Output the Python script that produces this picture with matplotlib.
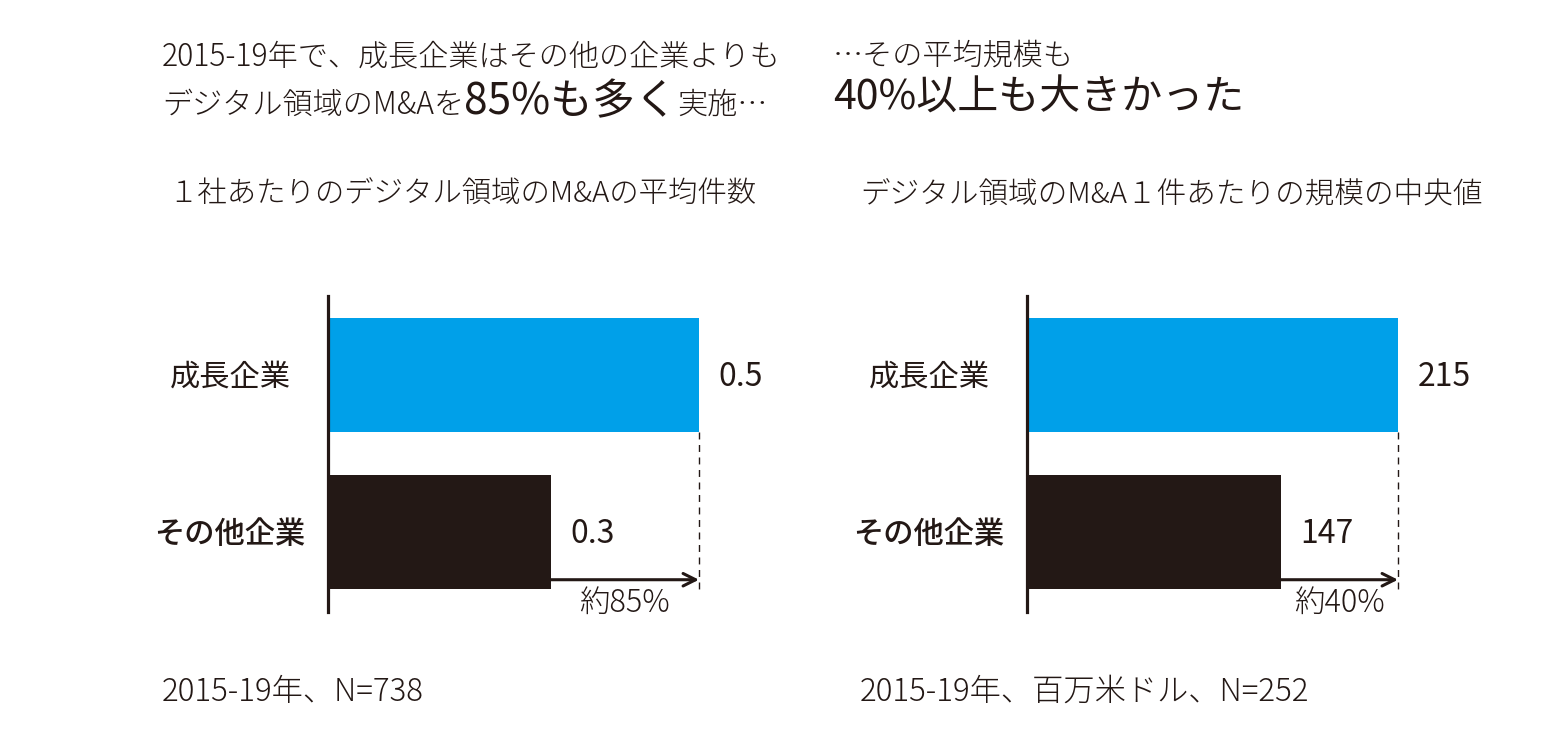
import matplotlib
matplotlib.use('Agg')
import matplotlib.pyplot as plt
from matplotlib.transforms import blended_transform_factory

plt.rcParams['font.family'] = ['Noto Sans CJK JP', 'DejaVu Sans']
plt.rcParams['font.weight'] = 'light'

W, H = 1567, 739
DARK = '#231815'
BLUE = '#00A0E9'

# ---- data ----
categories = ['成長企業', 'その他企業']
left_values = [0.5, 0.3]
left_labels = ['0.5', '0.3']
right_values = [215, 147]
right_labels = ['215', '147']
left_diff_label = '約85%'
right_diff_label = '約40%'
left_subtitle = '１社あたりのデジタル領域のM&Aの平均件数'
right_subtitle = 'デジタル領域のM&A１件あたりの規模の中央値'
left_note = '2015-19年、N=738'
right_note = '2015-19年、百万米ドル、N=252'


def fx(x):
    return x / W


def fy(y):
    return 1 - y / H


fig = plt.figure(figsize=(W / 100, H / 100), dpi=100)
fig.patch.set_facecolor('white')
r = fig.canvas.get_renderer()


def seq_text(x, y, parts):
    """parts: list of (text, fontsize, weight)"""
    cx = x
    for txt, fs, wt in parts:
        t = fig.text(fx(cx), fy(y), txt, fontsize=fs, va='baseline', ha='left',
                     color=DARK, fontweight=wt)
        bb = t.get_window_extent(r)
        cx = bb.x1


# headlines
seq_text(162, 65, [('2015-19年で、成長企業はその他の企業よりも', 21.7, 'light')])
seq_text(162, 114, [('デジタル領域のM&Aを', 21.7, 'light'), ('85%も多く', 30.5, 'normal'),
                    ('実施…', 21.7, 'light')])
seq_text(833, 65, [('…その平均規模も', 21.7, 'light')])
seq_text(833, 110, [('40%以上も大きかった', 29.5, 'normal')])

# subtitles
fig.text(fx(168), fy(203), left_subtitle, fontsize=21.2, va='baseline', color=DARK)
fig.text(fx(860), fy(203), right_subtitle, fontsize=21.3, va='baseline', color=DARK)

# notes
fig.text(fx(162), fy(701), left_note, fontsize=22.5, va='baseline', color=DARK)
fig.text(fx(860), fy(701), right_note, fontsize=22.5, va='baseline', color=DARK)

cat_weights = ['normal', 'medium']


def panel(x0, values, labels, diff_label):
    ax = fig.add_axes([fx(x0), fy(612), 371 / W, 316 / H])
    ax.set_xlim(0, values[0])
    ax.set_ylim(-0.505, 1.502)
    ypos = [1, 0]
    ax.barh(ypos, values, height=0.724, color=[BLUE, DARK], zorder=2)
    for s in ['top', 'right', 'bottom']:
        ax.spines[s].set_visible(False)
    ax.spines['left'].set_linewidth(2.3)
    ax.spines['left'].set_color(DARK)
    ax.spines['left'].set_zorder(3)
    ax.set_xticks([])
    ax.set_yticks([])
    ax.patch.set_alpha(0)
    tr = blended_transform_factory(ax.transAxes, ax.transData)
    for yp, cat, wt in zip(ypos, categories, cat_weights):
        ax.text(-0.264, yp - 0.01, cat, transform=tr, ha='center', va='center',
                fontsize=21.8, color=DARK, fontweight=wt)
    for yp, v, lab in zip(ypos, values, labels):
        ax.annotate(lab, xy=(v, yp - 0.01), xytext=(14, 0), textcoords='offset points',
                    ha='left', va='center', fontsize=23, color=DARK, fontweight='normal',
                    annotation_clip=False)
    # dashed guide line
    top_bottom = ypos[0] - 0.724 / 2
    bot_bottom = ypos[1] - 0.724 / 2
    ax.plot([values[0], values[0]], [top_bottom, bot_bottom], ls=(0, (5, 4)),
            lw=1, color=DARK, clip_on=False)
    # arrow
    ay = -0.30
    ax.annotate('', xy=(values[0], ay), xytext=(values[1], ay),
                arrowprops=dict(arrowstyle='->,head_length=0.9,head_width=0.45',
                                lw=2.2, color=DARK, shrinkA=0, shrinkB=0),
                annotation_clip=False)
    ax.text((values[0] + values[1]) / 2, -0.45, diff_label, ha='center', va='center',
            fontsize=22, color=DARK)
    return ax


panel(328, left_values, left_labels, left_diff_label)
panel(1027, right_values, right_labels, right_diff_label)

fig.savefig('out.png', dpi=100)
